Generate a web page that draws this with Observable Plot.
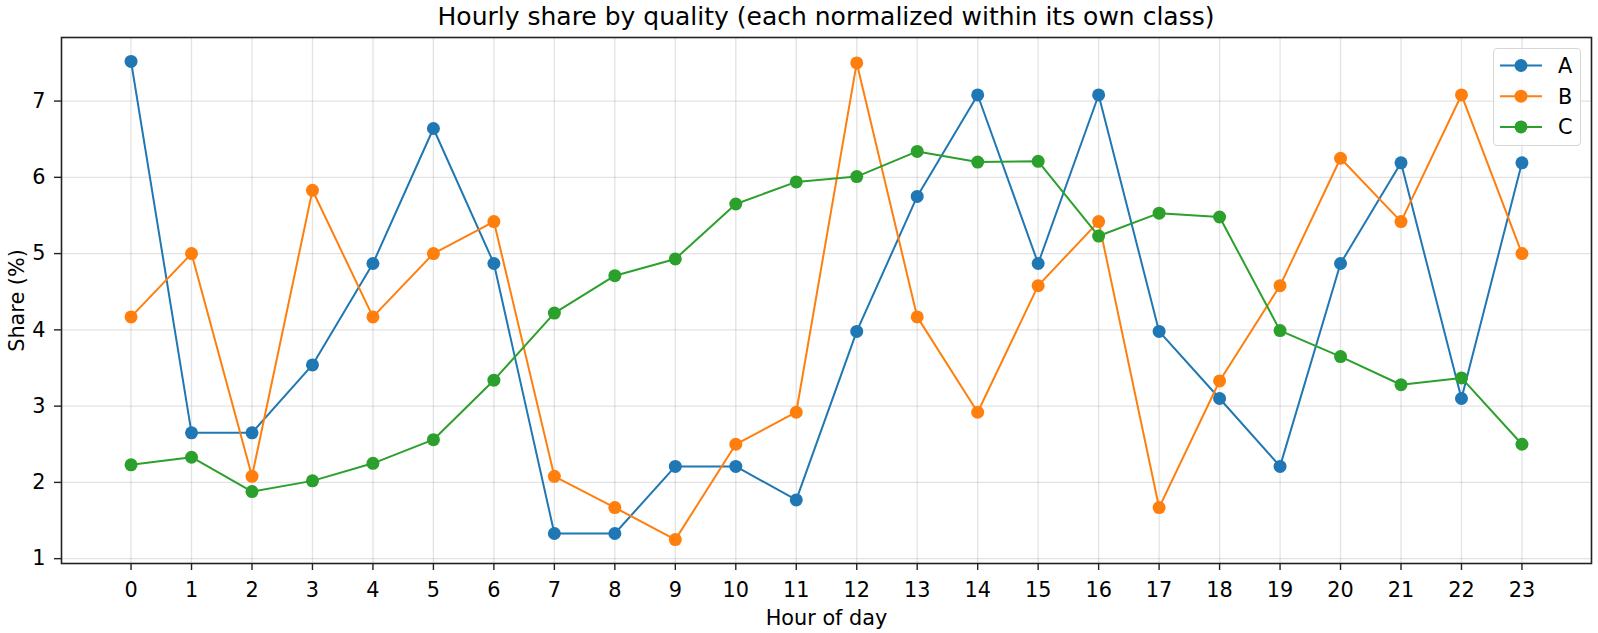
<!DOCTYPE html>
<html>
<head>
<meta charset="utf-8">
<script src="https://cdn.jsdelivr.net/npm/d3@7"></script>
<script src="https://cdn.jsdelivr.net/npm/@observablehq/plot@0.6"></script>
<style>
  html, body { margin: 0; padding: 0; background: #fff; }
  body { width: 1598px; height: 633px; position: relative; overflow: hidden; font-family: "DejaVu Sans", sans-serif; }
  #title { position: absolute; left: 61px; width: 1530px; top: 4px; height: 26px; line-height: 25px; font-size: 25px; text-align: center; color: #000; white-space: nowrap; }
  #chart { position: absolute; left: 0; top: 30px; }
  #legend { position: absolute; left: 1493px; top: 48px; width: 86px; height: 96px; border: 1px solid #d6d6d6; border-radius: 4px; background: rgba(255,255,255,0.8); }
</style>
</head>
<body>
<div id="title">Hourly share by quality (each normalized within its own class)</div>
<div id="chart"></div>
<div id="legend"></div>
<script>
const hours = [0, 1, 2, 3, 4, 5, 6, 7, 8, 9, 10, 11, 12, 13, 14, 15, 16, 17, 18, 19, 20, 21, 22, 23];
const seriesNames = ["A", "B", "C"];
const seriesColors = ["#1f77b4", "#ff7f0e", "#2ca02c"];
const valuesA = [7.52, 2.65, 2.65, 3.54, 4.87, 6.64, 4.87, 1.33, 1.33, 2.21, 2.21, 1.77, 3.98, 5.75, 7.08, 4.87, 7.08, 3.98, 3.10, 2.21, 4.87, 6.19, 3.10, 6.19];
const valuesB = [4.17, 5.00, 2.08, 5.83, 4.17, 5.00, 5.42, 2.08, 1.67, 1.25, 2.50, 2.92, 7.50, 4.17, 2.92, 4.58, 5.42, 1.67, 3.33, 4.58, 6.25, 5.42, 7.08, 5.00];
const valuesC = [2.23, 2.33, 1.88, 2.02, 2.25, 2.56, 3.34, 4.22, 4.71, 4.93, 5.65, 5.94, 6.01, 6.34, 6.20, 6.21, 5.23, 5.53, 5.48, 3.99, 3.65, 3.28, 3.37, 2.50];
const yTicks = [1, 2, 3, 4, 5, 6, 7];
const xLabel = "Hour of day";
const yLabel = "Share (%)";

const allValues = [valuesA, valuesB, valuesC];
const tables = allValues.map((vals, i) => hours.map((h, j) => ({hour: h, share: vals[j], series: seriesNames[i]})));

// matplotlib-like 5% margins
const flat = allValues.flat();
const yMin = d3.min(flat), yMax = d3.max(flat);
const yPad = (yMax - yMin) * 0.05;
const xMin = d3.min(hours), xMax = d3.max(hours);
const xPad = (xMax - xMin) * 0.05;

const font = "DejaVu Sans";
const seriesMarks = tables.flatMap((t, i) => [
  Plot.line(t, {x: "hour", y: "share", stroke: seriesColors[i], strokeWidth: 2}),
  Plot.dot(t, {x: "hour", y: "share", fill: seriesColors[i], r: 6.5, stroke: "none"})
]);

const chart = Plot.plot({
  width: 1598,
  height: 603,
  marginTop: 7,
  marginBottom: 70,
  marginLeft: 61,
  marginRight: 7,
  style: {fontFamily: font, fontSize: "20.8px", color: "#000", background: "#fff"},
  x: {domain: [xMin - xPad, xMax + xPad], ticks: hours},
  y: {domain: [yMin - yPad, yMax + yPad], ticks: yTicks},
  marks: [
    Plot.gridX(hours, {stroke: "#b0b0b0", strokeOpacity: 0.35, strokeWidth: 1.3}),
    Plot.gridY(yTicks, {stroke: "#b0b0b0", strokeOpacity: 0.35, strokeWidth: 1.3}),
    ...seriesMarks,
    Plot.frame({stroke: "#222", strokeWidth: 1.6}),
    Plot.axisX(hours, {tickSize: 7, tickPadding: 12, fontSize: 20.8, label: null, stroke: "#222", strokeWidth: 1.4}),
    Plot.axisY(yTicks, {tickSize: 7, tickPadding: 9, fontSize: 20.8, label: null, tickFormat: d3.format("d"), stroke: "#222", strokeWidth: 1.4}),
    Plot.text([xLabel], {frameAnchor: "bottom", lineAnchor: "bottom", dy: 61, fontSize: 20.8, fill: "#000"}),
    Plot.text([yLabel], {frameAnchor: "left", lineAnchor: "bottom", textAnchor: "middle", rotate: -90, dx: -38, fontSize: 20.8, fill: "#000"})
  ]
});
document.getElementById("chart").appendChild(chart);

// Legend
const legend = document.getElementById("legend");
const ns = "http://www.w3.org/2000/svg";
const lsvg = document.createElementNS(ns, "svg");
lsvg.setAttribute("width", 86);
lsvg.setAttribute("height", 96);
lsvg.style.fontFamily = font;
seriesNames.forEach((name, i) => {
  const cy = 16.5 + i * 30.7;
  const line = document.createElementNS(ns, "line");
  line.setAttribute("x1", 6); line.setAttribute("x2", 48);
  line.setAttribute("y1", cy); line.setAttribute("y2", cy);
  line.setAttribute("stroke", seriesColors[i]); line.setAttribute("stroke-width", 2);
  lsvg.appendChild(line);
  const c = document.createElementNS(ns, "circle");
  c.setAttribute("cx", 27); c.setAttribute("cy", cy); c.setAttribute("r", 6.5);
  c.setAttribute("fill", seriesColors[i]);
  lsvg.appendChild(c);
  const t = document.createElementNS(ns, "text");
  t.setAttribute("x", 64); t.setAttribute("y", cy);
  t.setAttribute("dy", "0.36em");
  t.setAttribute("font-size", "20.8px");
  t.setAttribute("fill", "#000");
  t.textContent = name;
  lsvg.appendChild(t);
});
legend.appendChild(lsvg);
</script>
</body>
</html>
